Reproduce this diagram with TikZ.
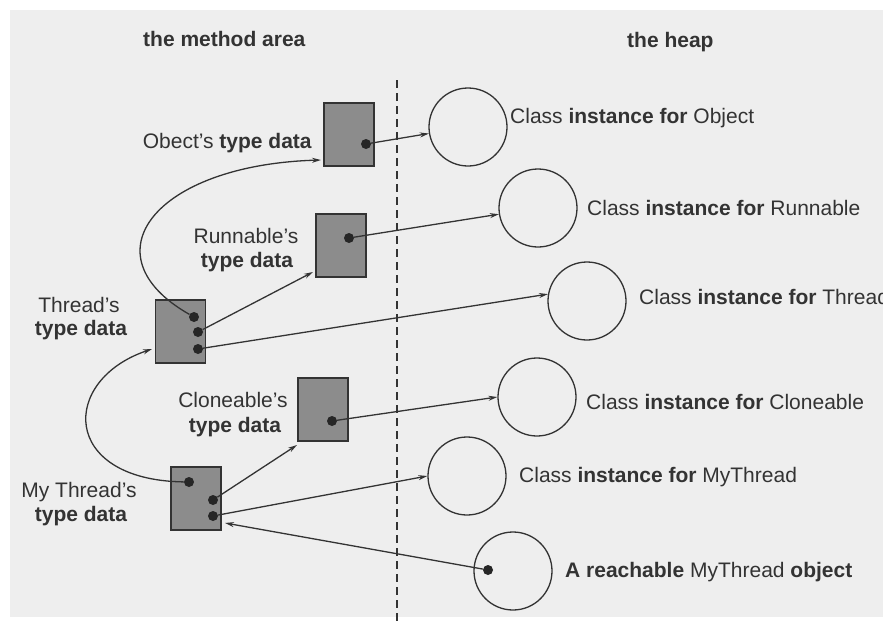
\documentclass[tikz,border=0pt]{standalone}
\usepackage{fontspec}
\setmainfont{Liberation Sans}
\usetikzlibrary{arrows.meta}
\definecolor{paper}{HTML}{EEEEEE}
\definecolor{ink}{HTML}{333333}
\definecolor{boxgray}{HTML}{8C8C8C}

\begin{document}
\begin{tikzpicture}[x=1pt,y=-1pt,
  every node/.style={font=\fontsize{21}{25}\selectfont, text=ink},
  typebox/.style={draw=ink, line width=1.2pt, fill=boxgray,
    minimum width=50pt, minimum height=63pt, inner sep=0pt},
  instance/.style={circle, draw=ink, line width=1.3pt,
    minimum size=78pt, inner sep=0pt},
  refdot/.style={circle, fill=black!85, minimum size=10pt, inner sep=0pt},
  ptr/.style={draw=ink, line width=1.3pt, -{Stealth[length=9pt,width=5pt]}},
  lbl/.style={inner sep=0pt},
  title/.style={inner sep=0pt, anchor=base west,
    font=\fontsize{21}{25}\selectfont\bfseries},
]
% paper
\fill[white] (0,0) rectangle (883,621);
\fill[paper] (10,10) rectangle (883,617);
\useasboundingbox (0,0) rectangle (883,621);

% headings and divider
\node[title] (tMeth) at (143,46) {the method area};
\node[title] (tHeap) at (627,47) {the heap};
\coordinate (divTop) at (397,80);
\coordinate (divBot) at (397,621);
\draw[ink, line width=1.5pt, dash pattern=on 8pt off 5pt] (divTop) -- (divBot);

% type data in the method area
\node[typebox] (objB) at (349,134.5) {};
\node[typebox] (runB) at (341,245.5) {};
\node[typebox] (thrB) at (180.5,331.5) {};
\node[typebox] (clnB) at (323,409.5) {};
\node[typebox] (mytB) at (196,498.5) {};

\node[lbl, anchor=base east] (objL) at (312,148) {Obect's \textbf{type data}};
\node[lbl, anchor=base] (runL1) at (246,243) {Runnable's};
\node[lbl, anchor=base] (runL2) at (247,267) {\textbf{type data}};
\node[lbl, anchor=base] (thrL1) at (79,312) {Thread's};
\node[lbl, anchor=base] (thrL2) at (81,335) {\textbf{type data}};
\node[lbl, anchor=base] (clnL1) at (233,407) {Cloneable's};
\node[lbl, anchor=base] (clnL2) at (235,432) {\textbf{type data}};
\node[lbl, anchor=base] (mytL1) at (79,497) {My Thread's};
\node[lbl, anchor=base] (mytL2) at (81,521) {\textbf{type data}};

% Class instances on the heap
\node[instance] (objC) at (468,127) {};
\node[instance] (runC) at (538,208) {};
\node[instance] (thrC) at (587,301) {};
\node[instance] (clnC) at (537,397) {};
\node[instance] (mytC) at (467,476) {};
\node[instance] (reaC) at (513,571) {};

\node[lbl, anchor=base west] (objT) at (510,123) {Class \textbf{instance for} Object};
\node[lbl, anchor=base west] (runT) at (587,215) {Class \textbf{instance for} Runnable};
\node[lbl, anchor=base west] (thrT) at (639,304) {Class \textbf{instance for} Thread};
\node[lbl, anchor=base west] (clnT) at (586,409) {Class \textbf{instance for} Cloneable};
\node[lbl, anchor=base west] (mytT) at (519,482) {Class \textbf{instance for} MyThread};
\node[lbl, anchor=base west] (reaT) at (565,577) {\textbf{A reachable} MyThread \textbf{object}};

% reference dots
\node[refdot] (objD) at (366,144) {};
\node[refdot] (runD) at (349,238) {};
\node[refdot] (thrD1) at (194,317) {};
\node[refdot] (thrD2) at (198,332) {};
\node[refdot] (thrD3) at (198,349) {};
\node[refdot] (clnD) at (332,421) {};
\node[refdot] (mytD1) at (189,482) {};
\node[refdot] (mytD2) at (213,500) {};
\node[refdot] (mytD3) at (213,516) {};
\node[refdot] (reaD) at (488,570) {};

% arrow targets on the boxes
\coordinate (objIn) at (321,160);
\coordinate (runIn) at (313,272);
\coordinate (thrIn) at (152,349);
\coordinate (clnIn) at (297,445);
\coordinate (mytIn) at (225,523);

% pointers
\draw[ptr] (objD) -- (objC);
\draw[ptr] (runD) -- (runC);
\draw[ptr] (thrD3) -- (thrC.170);
\draw[ptr] (thrD2) -- (runIn);
\draw[ptr] (thrD1) .. controls (85,255) and (155,165) .. (objIn);
\draw[ptr] (clnD) -- (clnC.west);
\draw[ptr] (mytD1) .. controls (60,480) and (60,380) .. (thrIn);
\draw[ptr] (mytD2) -- (clnIn);
\draw[ptr] (mytD3) -- (mytC.west);
\draw[ptr] (reaD) -- (mytIn);
\end{tikzpicture}
\end{document}
